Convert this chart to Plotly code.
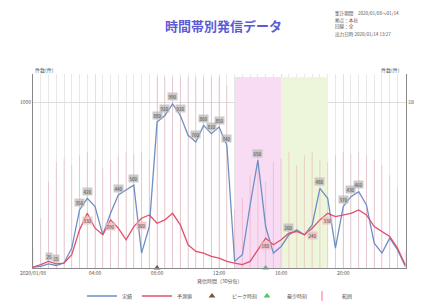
import plotly.graph_objects as go

# ---------------- data ----------------
hours = [0.0, 0.5, 1.0, 1.5, 2.0, 2.5, 3.0, 3.5, 4.0, 4.5, 5.0, 5.5, 6.0, 6.5, 7.0, 7.5,
         8.0, 8.5, 9.0, 9.5, 10.0, 10.5, 11.0, 11.5, 12.0, 12.5, 13.0, 13.5, 14.0, 14.5,
         15.0, 15.5, 16.0, 16.5, 17.0, 17.5, 18.0, 18.5, 19.0, 19.5, 20.0, 20.5, 21.0,
         21.5, 22.0, 22.5, 23.0, 23.5, 24.0]

actual = [5, 10, 25, 15, 30, 120, 350, 420, 370, 200, 330, 440, 470, 500, 90, 250,
          880, 920, 990, 920, 800, 760, 860, 810, 850, 740, 40, 80, 380, 650,
          250, 90, 130, 200, 230, 200, 260, 480, 420, 120, 370, 430, 460,
          380, 150, 90, 180, 110, 10]

forecast = [5, 20, 40, 25, 30, 80, 230, 330, 240, 200, 290, 240, 170, 250, 300, 320,
            270, 290, 330, 260, 140, 100, 90, 70, 60, 40, 30, 20, 40, 110,
            180, 140, 170, 210, 220, 200, 240, 290, 330, 310, 320, 330, 350,
            320, 250, 220, 190, 120, 20]

range_low = [0, 0, 0, 0, 0, 0, 0, 0, 0, 0, 0, 0, 0, 0, 0, 0,
             0, 0, 0, 0, 0, 0, 0, 0, 0, 0, 0, 0, 0, 0,
             0, 0, 0, 0, 0, 0, 0, 0, 0, 0, 0, 0, 0,
             0, 0, 0, 0, 0, 0]
range_high = [120, 300, 520, 640, 660, 620, 680, 700, 650, 600, 640, 680, 700, 690, 700, 650,
              1150, 1150, 1150, 1150, 1150, 1150, 1150, 1150, 1150, 1100, 350, 420, 560, 700,
              520, 640, 660, 700, 620, 680, 700, 650, 640, 680, 700, 690, 700,
              680, 650, 620, 560, 480, 100]

actual_label_idx = [2, 3, 6, 7, 11, 13, 16, 17, 18, 19, 21, 22, 23, 24, 25, 29, 33, 37, 40, 41, 42]
forecast_label_idx = [7, 10, 14, 30, 36, 38]

peak_time = [8.0]
low_time = [15.0]

band_centers = [14.5, 17.5]
band_widths = [3, 3]
band_top = [1150, 1150]
band_colors = ["#f7dcf3", "#edf6da"]

tick_vals = [0, 4, 8, 12, 16, 20]
tick_text = ["2020/01/08", "04:00", "08:00", "12:00", "16:00", "20:00"]

title_text = "時間帯別発信データ"
info_lines = ["集計期間　2020/01/08〜01/14",
              "拠点：本社",
              "回線：全",
              "出力日時 2020/01/14 13:27"]

FONT = "Noto Sans CJK JP"
BLUE = "#6f8fc4"
RED = "#e0506a"

# plot area in pixels
M_L, M_R, M_T, M_B = 25, 24, 66, 43
W, H = 422, 303
PLOT_H = H - M_T - M_B
def py(pix):
    return 1 + (M_T - pix) / PLOT_H

fig = go.Figure()

# shaded time bands
fig.add_trace(go.Bar(x=band_centers, y=band_top, width=band_widths,
                     marker=dict(color=band_colors, line=dict(width=0)),
                     showlegend=False, hoverinfo="skip"))

# range bars
rx, ry = [], []
for h, lo, hi in zip(hours, range_low, range_high):
    rx += [h, h, None]
    ry += [lo, hi, None]
fig.add_trace(go.Scatter(x=rx, y=ry, mode="lines",
                         line=dict(color="rgba(228,110,135,0.35)", width=0.8),
                         showlegend=False, hoverinfo="skip"))

fig.add_trace(go.Scatter(x=hours, y=actual, mode="lines", name="実績",
                         line=dict(color=BLUE, width=1.3)))
fig.add_trace(go.Scatter(x=hours, y=forecast, mode="lines", name="予測値",
                         line=dict(color=RED, width=1.3)))
fig.add_trace(go.Scatter(x=peak_time, y=[0] * len(peak_time), mode="markers", name="ピーク時刻",
                         marker=dict(symbol="triangle-up", size=6, color="#7a5a3a"),
                         cliponaxis=False))
fig.add_trace(go.Scatter(x=low_time, y=[0] * len(low_time), mode="markers", name="最少時刻",
                         marker=dict(symbol="triangle-up", size=6, color="#4cc46a"),
                         cliponaxis=False))
fig.add_trace(go.Scatter(x=[None], y=[None], mode="markers", name="範囲",
                         marker=dict(symbol="line-ns-open", size=7,
                                     line=dict(color="rgba(228,110,135,0.6)", width=1))))
# invisible trace to carry right axis
fig.add_trace(go.Scatter(x=hours, y=actual, yaxis="y2", mode="lines",
                         line=dict(width=0), opacity=0, showlegend=False, hoverinfo="skip"))

# value labels
for i in actual_label_idx:
    fig.add_annotation(x=hours[i], y=actual[i], text=str(actual[i]), showarrow=False,
                       yshift=7, font=dict(size=4.5, color="#444", family=FONT),
                       bgcolor="rgba(185,185,185,0.75)", borderpad=0.5)
for i in forecast_label_idx:
    fig.add_annotation(x=hours[i], y=forecast[i], text=str(forecast[i]), showarrow=False,
                       yshift=-7, font=dict(size=4.5, color="#444", family=FONT),
                       bgcolor="rgba(235,185,190,0.75)", borderpad=0.5)

# title / info / axis titles
fig.add_annotation(xref="paper", yref="paper", x=0.51, y=py(17), yanchor="middle",
                   text="<b>" + title_text + "</b>",
                   showarrow=False, font=dict(size=13, color="#5b5bd6", family=FONT))
for line, ypix in zip(info_lines, [5, 12, 19, 26]):
    fig.add_annotation(xref="paper", yref="paper", x=0.805, y=py(ypix), text=line,
                       xanchor="left", yanchor="middle",
                       showarrow=False, font=dict(size=4.6, color="#555", family=FONT))
fig.add_annotation(xref="paper", yref="paper", x=0.0, y=py(M_T - 4), yanchor="middle",
                   text="件数(件)", showarrow=False, font=dict(size=5, color="#555", family=FONT))
fig.add_annotation(xref="paper", yref="paper", x=0.99, y=py(M_T - 4), yanchor="middle",
                   text="件数(件)", showarrow=False, font=dict(size=5, color="#555", family=FONT))
fig.add_annotation(xref="paper", yref="paper", x=0.5, y=py(H - M_B + 13), yanchor="middle",
                   text="発信時間（30分毎）", showarrow=False,
                   font=dict(size=5, color="#555", family=FONT))

fig.update_layout(
    width=W, height=H,
    margin=dict(l=M_L, r=M_R, t=M_T, b=M_B, autoexpand=False),
    paper_bgcolor="white", plot_bgcolor="white",
    barmode="overlay", bargap=0,
    font=dict(family=FONT, size=5, color="#555"),
    legend=dict(orientation="h", x=0.5, xanchor="center", y=py(288), yanchor="middle",
                font=dict(size=5, family=FONT), entrywidth=10, entrywidthmode="pixels",
                itemwidth=30, bgcolor="rgba(0,0,0,0)"),
    xaxis=dict(range=[0, 24.05], tickvals=tick_vals, ticktext=tick_text,
               showgrid=True, gridcolor="#e2e2e2", gridwidth=0.6,
               minor=dict(dtick=0.5, showgrid=True, gridcolor="#e8e8e8", gridwidth=0.6),
               showline=True, linecolor="#888", linewidth=1, ticks="",
               tickfont=dict(size=5), zeroline=False),
    yaxis=dict(range=[0, 1170], tickvals=[1000], showgrid=True, gridcolor="#dddddd",
               showline=True, linecolor="#888", linewidth=1, ticks="",
               tickfont=dict(size=5), zeroline=False),
    yaxis2=dict(range=[0, 1170], tickvals=[1000], overlaying="y", side="right",
                showgrid=False, showline=True, linecolor="#888", linewidth=1, ticks="",
                tickfont=dict(size=4.5), zeroline=False),
)

fig.write_html("out.html")
